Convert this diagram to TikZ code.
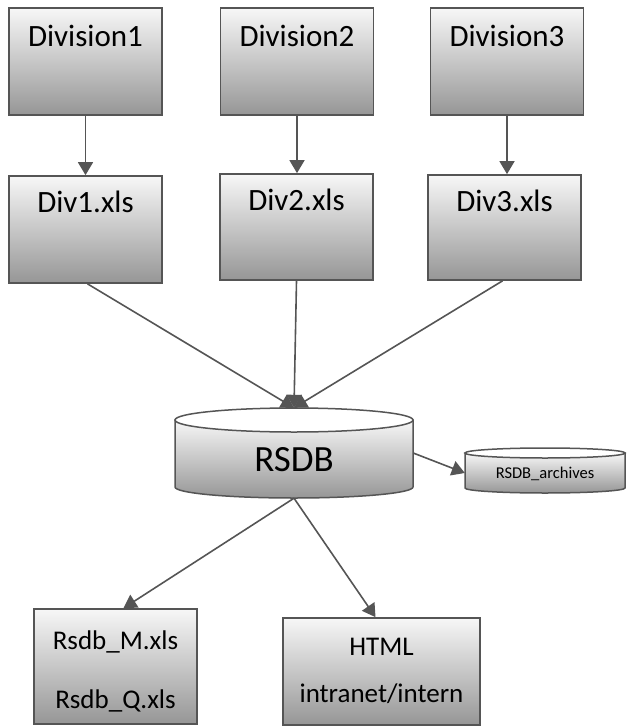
\documentclass[tikz,border=0pt]{standalone}
\usepackage{fontspec}
\setmainfont{Carlito}
\usetikzlibrary{arrows.meta}
\definecolor{boxtop}{HTML}{F7F7F7}
\definecolor{boxbot}{HTML}{969696}
\definecolor{edge}{HTML}{555555}
\begin{document}
\begin{tikzpicture}[x=1pt,y=-1pt,
  dbox/.style={draw=edge, line width=1.7pt, top color=boxtop, bottom color=boxbot, minimum width=153pt, minimum height=107pt, inner sep=0pt},
  lbl/.style={font=\fontsize{31}{37}\selectfont, anchor=base, inner sep=0pt},
  cyl/.style={draw=edge, line width=1.5pt, top color=boxtop, bottom color=boxbot},
  cyltop/.style={draw=edge, line width=1.5pt, fill=white},
  conn/.style={draw=edge, line width=1.6pt, -{Triangle[width=15pt,length=13pt]}}]
\useasboundingbox (0,0) rectangle (633,727);

% top row
\node[dbox] (d1) at (85.5,61.5) {};
\node[dbox] (d2) at (297,61.5) {};
\node[dbox] (d3) at (507,61.5) {};
\node[lbl] (d1t) at ([yshift=-39pt]d1.north) {Division1};
\node[lbl] (d2t) at ([yshift=-39pt]d2.north) {Division2};
\node[lbl] (d3t) at ([yshift=-39pt]d3.north) {Division3};

% xls row
\node[dbox] (x1) at (85.5,229.5) {};
\node[dbox, minimum height=106pt] (x2) at (296.5,227) {};
\node[dbox, minimum height=105pt] (x3) at (504.5,227.5) {};
\node[lbl] (x1t) at ([yshift=-37pt]x1.north) {Div1.xls};
\node[lbl] (x2t) at ([yshift=-37pt]x2.north) {Div2.xls};
\node[lbl] (x3t) at ([yshift=-37pt]x3.north) {Div3.xls};

% RSDB cylinder
\node[minimum width=238pt, minimum height=90pt, inner sep=0pt] (db) at (294,453) {};
\path[cyl] (175,420) -- (175,487) arc (180:0:119 and 11) -- (413,420) -- cycle;
\path[cyltop] (294,420) ellipse (119 and 12);
\node[font=\fontsize{37}{40}\selectfont, anchor=base, inner sep=0pt] (dbt) at (294,471) {RSDB};

% archives cylinder
\node[minimum width=160pt, minimum height=45pt, inner sep=0pt] (ar) at (545,470.5) {};
\path[cyl] (465,453) -- (465,488) arc (180:0:80 and 5) -- (625,453) -- cycle;
\path[cyltop] (545,453) ellipse (80 and 5);
\node[font=\fontsize{16.5}{18}\selectfont, anchor=base, inner sep=0pt] (art) at (545,478) {RSDB\_archives};

% bottom row
\node[dbox, minimum width=163pt, minimum height=115pt] (m) at (115.5,666.5) {};
\node[font=\fontsize{27}{59}\selectfont, align=center, inner sep=0pt] (mt) at (115.5,671) {Rsdb\_M.xls\\Rsdb\_Q.xls};
\node[dbox, minimum width=197pt, minimum height=107pt] (h) at (381.5,671.5) {};
\node[font=\fontsize{27}{47}\selectfont, align=center, inner sep=0pt] (ht) at (381.5,671) {HTML\\intranet/intern};

% connectors
\draw[conn] (d1) -- (x1);
\draw[conn] (d2.south) -- (d2.south |- x2.north);
\draw[conn] (d3.south) -- (d3.south |- x3.north);
\draw[conn] ([xshift=2pt]x1.south) -- (db.north);
\draw[conn] (x2.south) -- (db.north);
\draw[conn] ([xshift=-2pt]x3.south) -- (db.north);
\draw[conn] (db.east) -- ([yshift=-2.5pt]ar.west);
\draw[conn] (db.south) -- ([xshift=8pt]m.north);
\draw[conn] (db.south) -- ([xshift=-6pt]h.north);
\end{tikzpicture}
\end{document}
